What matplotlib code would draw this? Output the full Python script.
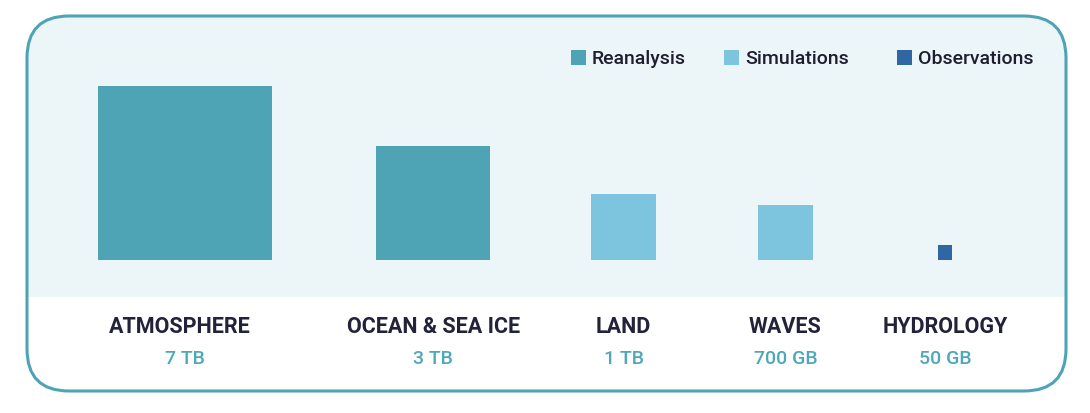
import matplotlib
matplotlib.use("Agg")
import matplotlib.pyplot as plt
import numpy as np
from matplotlib.patches import FancyBboxPatch, Rectangle

categories = ["ATMOSPHERE", "OCEAN & SEA ICE", "LAND", "WAVES", "HYDROLOGY"]
sizes_gb = [7000, 3000, 1000, 700, 50]
size_labels = ["7 TB", "3 TB", "1 TB", "700 GB", "50 GB"]
kinds = ["Reanalysis", "Reanalysis", "Simulations", "Simulations", "Observations"]
legend_labels = ["Reanalysis", "Simulations", "Observations"]

colors = {"Reanalysis": "#4EA4B5", "Simulations": "#7DC4DF", "Observations": "#2F67A5"}
centers = [185, 433, 623.5, 785.5, 945]
label_centers = [180, 433.5, 623, 785, 945]
baseline = 261
scale = 174 / np.sqrt(7000)

W, H = 1090, 414
fig = plt.figure(figsize=(W / 100, H / 100), dpi=100)
ax = fig.add_axes([0, 0, 1, 1])
ax.set_xlim(0, W)
ax.set_ylim(H, 0)
ax.axis("off")

border_col = "#4EA4B5"
x0, y0, x1, y1 = 27, 17, 1066, 392
panel = FancyBboxPatch((x0, y0), x1 - x0, y1 - y0,
                       boxstyle="round,pad=0,rounding_size=42",
                       facecolor="#ECF6F9", edgecolor="none", zorder=1)
ax.add_patch(panel)
white = Rectangle((0, 298), W, H - 298, facecolor="white", edgecolor="none", zorder=2)
ax.add_patch(white)
white.set_clip_path(panel)
outline = FancyBboxPatch((x0, y0), x1 - x0, y1 - y0,
                         boxstyle="round,pad=0,rounding_size=42",
                         facecolor="none", edgecolor=border_col, linewidth=2.2, zorder=5)
ax.add_patch(outline)

sides = [scale * np.sqrt(v) for v in sizes_gb]
ax.bar(centers, [-s for s in sides], width=sides, bottom=baseline,
       color=[colors[k] for k in kinds], edgecolor="none", zorder=3)

font = "Roboto"
for c, lc, name, lab in zip(centers, label_centers, categories, size_labels):
    ax.text(lc, 327, name, ha="center", va="center", fontsize=15.5,
            fontweight="bold", color="#22223A", family=font, zorder=6)
    ax.text(c, 359, lab, ha="center", va="center", fontsize=14,
            fontweight="medium", color="#4FA8B9", family=font, zorder=6)

leg_sq = [571, 724, 897]
for xs, lab in zip(leg_sq, legend_labels):
    ax.add_patch(Rectangle((xs, 51), 15, 15, facecolor=colors[lab], edgecolor="none", zorder=6))
    ax.text(xs + 21, 59.5, lab, ha="left", va="center", fontsize=14,
            fontweight="medium", color="#1E1E30", family=font, zorder=6)

fig.savefig("out.png", dpi=100)
